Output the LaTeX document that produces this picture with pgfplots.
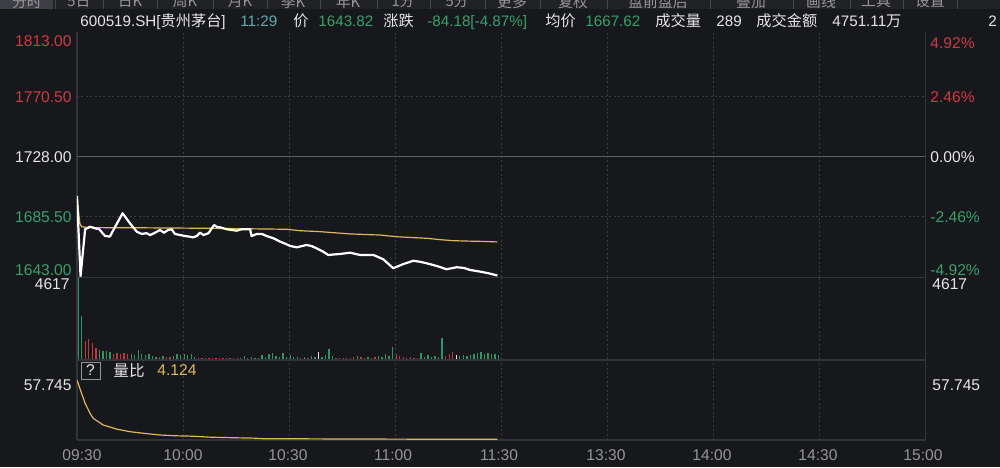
\documentclass[border=0pt]{standalone}
\usepackage{pgfplots}
\pgfplotsset{compat=1.18}
\usepackage{fontspec}
\setmainfont{Liberation Sans}
\newfontfamily\cjk{Noto Sans CJK SC}

\definecolor{bg}{RGB}{23,24,28}
\definecolor{gridc}{RGB}{56,58,64}
\definecolor{framec}{RGB}{50,52,58}
\definecolor{zeroc}{RGB}{92,93,98}
\definecolor{upred}{RGB}{206,58,68}
\definecolor{dngreen}{RGB}{58,158,108}
\definecolor{avgc}{RGB}{222,184,92}
\definecolor{txt}{RGB}{230,230,230}
\definecolor{tickc}{RGB}{150,150,152}
\definecolor{tealc}{RGB}{96,172,178}
\definecolor{tabbg}{RGB}{33,34,38}
\definecolor{tabsel}{RGB}{62,63,68}
\definecolor{tabline}{RGB}{70,71,76}
\definecolor{volgreen}{RGB}{46,150,100}
\definecolor{volred}{RGB}{196,52,66}

\pgfplotsset{
  panel/.style={
    scale only axis, width=424pt,
    xmin=0, xmax=240,
    axis line style={draw=none}, tick style={draw=none},
    xtick={30,60,...,210}, xticklabels={}, yticklabels={},
    xmajorgrids,
    grid style={gridc, line width=0.5pt, dash pattern=on 1pt off 1.2pt},
  }
}

\begin{document}
\begin{tikzpicture}[font=\fontsize{7.8}{9}\selectfont]
\begin{scope}[x=0.5pt, y=-0.5pt]
% background and tab strip
\fill[bg] (0,0) rectangle (1000,467);
\fill[tabbg] (0,0) rectangle (1000,9);
\fill[tabsel] (0,0) rectangle (53,9);
\foreach \x in {55,103,157,213,267,320,377,430,485,540,607,710,793,850,903,957}
  \draw[tabline, line width=0.5pt] (\x,0) -- (\x,9);
\begin{scope}
  \clip (0,0) rectangle (1000,9);
  \foreach \x/\t in {27/分时,79/5日,130/日K,185/周K,240/月K,293/季K,348/年K,403/1分,457/5分,512/更多,573/复权,658/盘前盘后,751/叠加,821/画线,876/工具,930/设置}
    \node[text=tickc, inner sep=0] at (\x,1.5) {\cjk\fontsize{7.4}{8}\selectfont \t};
\end{scope}

% header line
\begin{scope}[every node/.style={anchor=base west, inner sep=0}, font=\fontsize{7.6}{9}\selectfont]
\node[text=txt] at (80,26.5) {600519.SH[{\cjk 贵州茅台}]};
\node[text=tealc] at (240,26.5) {11:29};
\node[text=txt] at (293,26.5) {\cjk 价};
\node[text=dngreen] at (318,26.5) {1643.82};
\node[text=txt] at (383,26.5) {\cjk 涨跌};
\node[text=dngreen] at (427,26.5) {-84.18[-4.87\%]};
\node[text=txt] at (545,26.5) {\cjk 均价};
\node[text=dngreen] at (585,26.5) {1667.62};
\node[text=txt] at (655,26.5) {\cjk 成交量};
\node[text=txt] at (716,26.5) {289};
\node[text=txt] at (756,26.5) {\cjk 成交金额};
\node[text=txt] at (832,26.5) {4751.11{\cjk 万}};
\node[text=txt] at (988,26.5) {2};
\end{scope}

% panel frames
\begin{scope}[framec, line width=0.6pt]
\draw (77,32) -- (77,440);
\draw (925.5,32) -- (925.5,440);
\draw (77,277.3) -- (925.5,277.3);
\draw (77,360) -- (925.5,360);
\draw (77,440) -- (925.5,440);
\end{scope}
\end{scope}

% price panel
\begin{axis}[panel, at={(38.5pt,-138.35pt)}, anchor=south west, height=122.35pt,
  ymin=1643, ymax=1816.3, ytick={1685.5,1770.5}, ymajorgrids]
\draw[zeroc, line width=0.7pt] (axis cs:0,1728) -- (axis cs:240,1728);
% average price
\addplot[avgc, line width=0.6pt] coordinates {
(0,1699)(0.8,1680.8)(1.3,1678.4)(3,1677.8)(20,1677.6)(36.8,1677.3)(59.4,1676.6)
(63,1675.6)(68.8,1674.9)(77.3,1673.3)(85.8,1672.5)(90.5,1671.3)(99,1670.2)
(103,1669.2)(106.5,1668.5)(111,1668.2)(115,1668.0)(119,1667.62)};
% last price
\addplot[white, line width=1.1pt, line join=round] coordinates {
(0,1700.2)(1,1643.3)(2.3,1676.6)(3.7,1678.4)(5.1,1677.3)(6.3,1676.6)(7.9,1671.9)
(9.3,1671.4)(10.8,1678.4)(12.9,1687.9)(15,1680.8)(16.9,1674.9)(18.3,1673.3)
(19.7,1673.8)(20.7,1672.5)(22.1,1674.2)(23.5,1676.1)(24.6,1674.2)(25.8,1676.1)
(26.8,1676.6)(27.7,1673.3)(29.2,1672.5)(30.6,1671.8)(32,1671.3)(32.9,1670.9)
(33.9,1671.8)(34.8,1674.2)(35.8,1672.5)(37.2,1673.8)(38.8,1679.6)(39.5,1678.4)
(40.5,1678.0)(42.4,1676.6)(43.8,1676.1)(45.2,1675.6)(46.6,1676.6)(48,1676.6)
(49,1676.6)(49.4,1671.8)(50.9,1673.3)(52.3,1673.3)(53.7,1671.8)(55.6,1670.2)
(57.5,1667.8)(59,1666.3)(60.3,1664.8)(62.2,1663.8)(65,1665.5)(66.5,1664.6)
(67.8,1663.1)(69.7,1660.7)(71.1,1658.4)(74.4,1659.1)(77.3,1660.0)(80.1,1658.4)
(83.9,1658.4)(86.7,1655.3)(89.5,1649.0)(92.4,1652.0)(95.2,1654.3)(97,1653.6)
(99,1652.5)(101.8,1650.6)(104.6,1648.3)(107.5,1649.7)(109.5,1649.2)(111.2,1647.8)
(114.1,1646.6)(116.5,1645.4)(119,1643.82)};
\end{axis}

% volume panel
\begin{axis}[panel, at={(38.5pt,-179.5pt)}, anchor=south west, height=40.85pt,
  ymin=0, ymax=4617, ytick=\empty,
  every axis plot/.append style={xshift=0.6pt}]
\addplot[ycomb, volgreen, line width=0.65pt, mark=none] coordinates {
(0,4617)(1,2420)(6,520)(7,430)(8,460)(9,380)(15,280)(16,220)(17,500)(18,300)
(19,220)(20,260)(21,160)(22,140)(24,150)(27,160)(28,300)(29,250)(30,280)(31,200)
(32,260)(33,140)(46,80)(47,150)(49,90)(50,70)(51,60)(52,200)(53,120)(54,260)
(55,350)(56,180)(57,100)(58,320)(59,120)(60,200)(61,140)(62,110)(64,100)(66,150)
(67,90)(69,120)(70,200)(71,560)(72,160)(79,160)(82,140)(85,180)(86,120)(87,260)
(88,160)(89,700)(97,360)(98,140)(99,200)(100,130)(101,160)(102,120)(103,1160)
(108,160)(109,200)(110,180)(111,220)(112,300)(113,360)(114,380)(115,300)(116,340)
(117,260)(118,280)(119,240)};
\addplot[ycomb, volred, line width=0.65pt, mark=none] coordinates {
(2,1000)(3,1120)(4,900)(5,620)(10,300)(11,340)(12,300)(13,330)(14,260)(23,120)
(25,120)(26,100)(34,60)(35,50)(36,60)(37,50)(38,60)(39,50)(40,60)(41,50)(42,60)
(43,50)(44,70)(45,60)(48,60)(63,80)(65,60)(73,80)(74,70)(75,60)(76,80)(77,70)
(78,100)(80,120)(81,80)(83,60)(84,100)(90,300)(91,160)(92,100)(93,80)(94,90)
(95,70)(96,80)(104,160)(105,260)(106,410)};
\addplot[ycomb, txt, line width=0.65pt, mark=none] coordinates {(68,420)(107,200)};
\end{axis}

% volume ratio panel
\begin{axis}[panel, at={(38.5pt,-220pt)}, anchor=south west, height=39pt,
  ymin=3.5, ymax=74.02, ytick=\empty]
\addplot[avgc, line width=0.6pt] coordinates {
(0,57.745)(1.3,45.7)(2.3,36.7)(3.7,27.6)(4.6,23.1)(7.4,17.1)(11.2,13.4)(15,11.0)
(18.8,9.6)(23.5,8.0)(28,7.3)(31,7.1)(33,6.9)(38,6.0)(39.5,5.9)(41,5.8)(45,5.5)
(50,5.2)(52,4.8)(52.7,4.7)(70,4.5)(90,4.3)(119,4.124)};
\end{axis}

\begin{scope}[x=0.5pt, y=-0.5pt]
% left scale
\begin{scope}[every node/.style={anchor=east, inner sep=0}]
\node[text=upred] at (72,41) {1813.00};
\node[text=upred] at (72,97) {1770.50};
\node[text=txt] at (72,157) {1728.00};
\node[text=dngreen] at (72,217) {1685.50};
\node[text=dngreen] at (72,270.5) {1643.00};
\node[text=txt] at (70,284.5) {4617};
\node[text=txt] at (72,385) {57.745};
\end{scope}

% right scale
\begin{scope}[every node/.style={anchor=west, inner sep=0}]
\node[text=upred] at (930,43) {4.92\%};
\node[text=upred] at (930,97) {2.46\%};
\node[text=txt] at (930,157) {0.00\%};
\node[text=dngreen] at (930,217) {-2.46\%};
\node[text=dngreen] at (930,270.5) {-4.92\%};
\node[text=txt] at (932,284.5) {4617};
\node[text=txt] at (932,385) {57.745};
\end{scope}

% volume ratio header
\draw[tickc, line width=0.5pt] (81,362) rectangle (100,379);
\node[text=txt, inner sep=0] at (90.5,370.5) {?};
\node[text=txt, anchor=west, inner sep=0] at (113,370.5) {\cjk 量比};
\node[text=avgc, anchor=west, inner sep=0] at (157,370.5) {4.124};

% time axis
\foreach \x/\t in {82/09:30,183/10:00,288/10:30,393/11:00,499/11:30,606/13:30,712/14:00,818/14:30,923/15:00}
  \node[text=tickc, inner sep=0] at (\x,455) {\t};

\pgfresetboundingbox
\path[use as bounding box] (0,0) rectangle (1000,467);
\end{scope}
\end{tikzpicture}
\end{document}
